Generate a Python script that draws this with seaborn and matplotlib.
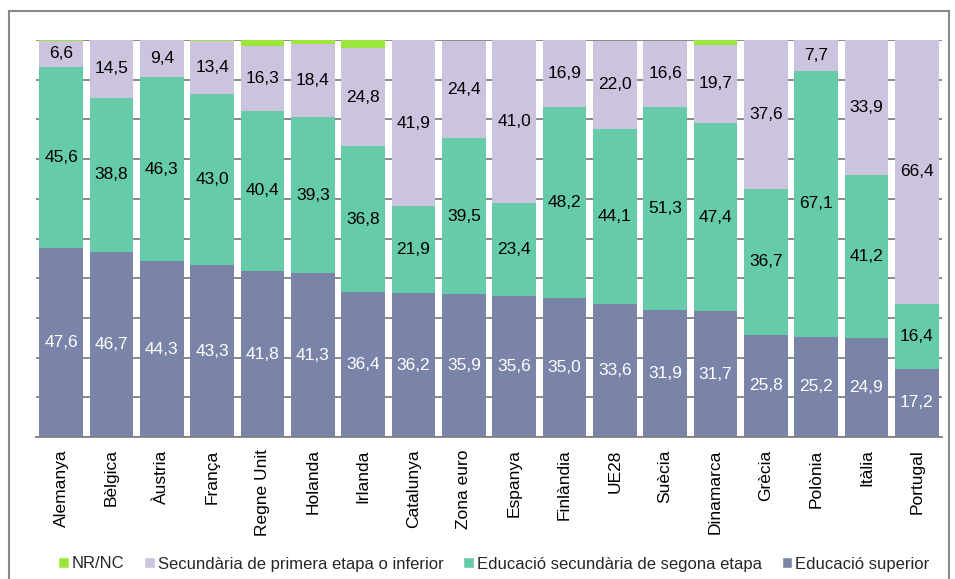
import numpy as np
import pandas as pd
import matplotlib
matplotlib.use("Agg")
import matplotlib.pyplot as plt
from matplotlib.patches import Rectangle, Patch
import seaborn as sns

# Data (percentages)
paisos = ['Alemanya', 'Bèlgica', 'Àustria', 'França', 'Regne Unit', 'Holanda', 'Irlanda',
          'Catalunya', 'Zona euro', 'Espanya', 'Finlàndia', 'UE28', 'Suècia', 'Dinamarca',
          'Grècia', 'Polònia', 'Itàlia', 'Portugal']
superior = [47.6, 46.7, 44.3, 43.3, 41.8, 41.3, 36.4, 36.2, 35.9, 35.6, 35.0, 33.6, 31.9, 31.7,
            25.8, 25.2, 24.9, 17.2]
segona = [45.6, 38.8, 46.3, 43.0, 40.4, 39.3, 36.8, 21.9, 39.5, 23.4, 48.2, 44.1, 51.3, 47.4,
          36.7, 67.1, 41.2, 16.4]
primera = [6.6, 14.5, 9.4, 13.4, 16.3, 18.4, 24.8, 41.9, 24.4, 41.0, 16.9, 22.0, 16.6, 19.7,
           37.6, 7.7, 33.9, 66.4]
nrnc = [0.2, 0.0, 0.0, 0.3, 1.5, 1.0, 2.0, 0.0, 0.0, 0.0, 0.0, 0.0, 0.0, 1.2,
        0.0, 0.0, 0.0, 0.0]

series_labels = ['NR/NC', 'Secundària de primera etapa o inferior',
                 'Educació secundària de segona etapa', 'Educació superior']

c_nr = '#9BE53D'
c_prim = '#CCC3DF'
c_seg = '#66CBA9'
c_sup = '#7A84A8'

df = pd.DataFrame({'pais': paisos, 'superior': superior, 'segona': segona,
                   'primera': primera, 'nrnc': nrnc})
df['s1'] = df['superior']
df['s2'] = df['s1'] + df['segona']
df['s3'] = df['s2'] + df['primera']
df['s4'] = df['s3'] + df['nrnc']

sns.set_theme(style="white")
plt.rcParams['font.family'] = ['Liberation Sans', 'DejaVu Sans']

fig = plt.figure(figsize=(9.55, 5.79), dpi=100)
ax = fig.add_axes([36 / 955, 1 - 437 / 579, 906 / 955, 397 / 579])

# stacked bars drawn as overlapping cumulative totals
for col, color in [('s4', c_nr), ('s3', c_prim), ('s2', c_seg), ('s1', c_sup)]:
    sns.barplot(data=df, x='pais', y=col, color=color, saturation=1, width=0.87,
                linewidth=0, ax=ax, zorder=2)

ax.set_ylim(0, 100)
ax.set_xlim(-0.5, len(paisos) - 0.5)
ax.set_yticks(np.arange(0, 101, 10))
ax.yaxis.grid(True, color='#808080', linewidth=1.3)
ax.set_axisbelow(True)
ax.tick_params(axis='y', left=False, labelleft=False)
for s in ['left', 'right', 'top']:
    ax.spines[s].set_visible(False)
ax.spines['bottom'].set_color('#808080')
ax.spines['bottom'].set_linewidth(1.3)

ax.set_xticks(np.arange(len(paisos)))
ax.set_xticklabels(paisos, rotation=90, fontsize=12.5, color='black')
ax.set_xticks(np.arange(len(paisos) + 1) - 0.5, minor=True)
ax.tick_params(axis='x', which='major', length=0, pad=9)
ax.tick_params(axis='x', which='minor', length=6, width=1.3, color='#808080', direction='out')
ax.set_xlabel('')
ax.set_ylabel('')


def fmt(v):
    return f"{v:.1f}".replace('.', ',')


for i in range(len(paisos)):
    s1, s2, s3 = df.loc[i, 's1'], df.loc[i, 's2'], df.loc[i, 's3']
    ax.text(i, s1 / 2, fmt(superior[i]), ha='center', va='center', color='white', fontsize=12.5, zorder=3)
    ax.text(i, (s1 + s2) / 2, fmt(segona[i]), ha='center', va='center', color='black', fontsize=12.5, zorder=3)
    ax.text(i, (s2 + s3) / 2, fmt(primera[i]), ha='center', va='center', color='black', fontsize=12.5, zorder=3)

handles = [Patch(facecolor=c) for c in [c_nr, c_prim, c_seg, c_sup]]
fig.legend(handles, series_labels, loc='center', bbox_to_anchor=(0.517, 1 - 564 / 579), ncol=4,
           frameon=False, handlelength=0.65, handleheight=0.65, handletextpad=0.15,
           columnspacing=1.2, fontsize=12)

fig.add_artist(Rectangle((9 / 955, -0.02), 940 / 955, 1.02 - 11 / 579, transform=fig.transFigure,
                         fill=False, edgecolor='#888888', linewidth=1.5))

fig.savefig('out.png', dpi=100)
